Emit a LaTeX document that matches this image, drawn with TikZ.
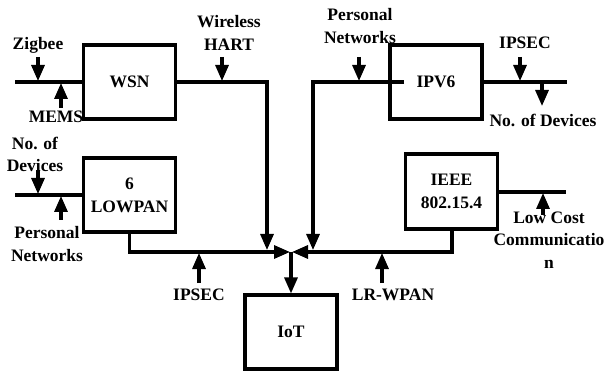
\documentclass[tikz,border=0pt]{standalone}
\usepackage{fontspec}
\setmainfont{Liberation Serif}
\usetikzlibrary{arrows.meta}
\begin{document}
\begin{tikzpicture}[x=1pt,y=-1pt,
  line width=3.1pt,
  blk/.style={draw, line width=3.1pt, minimum width=92pt, minimum height=74pt,
              inner sep=0pt, align=center, font=\bfseries\fontsize{17.5}{23}\selectfont},
  lbl/.style={inner sep=0pt, align=center, font=\bfseries\fontsize{17.5}{22.5}\selectfont},
  tip/.style={-{Triangle[length=16pt,width=13pt]}}]
\useasboundingbox (0,0) rectangle (605,374);

% blocks
\node[blk] (wsn)    at (129.5,82)  {WSN};
\node[blk] (ipv6)   at (436,82)    {IPV6};
\node[blk] (lowpan) at (129.5,195) {6\\LOWPAN};
\node[blk, minimum height=75pt] (ieee) at (451.5,191.5) {IEEE\\802.15.4};
\node[blk] (iot)    at (291,332)   {IoT};

% free ends and bends
\coordinate (wsnin)  at (15,82);
\coordinate (wsnbend) at (267,82);
\coordinate (wsnend) at (267,250);
\coordinate (ipv6in) at (404,82);
\coordinate (ipv6bend) at (313,82);
\coordinate (ipv6end) at (313,250);
\coordinate (ipv6out) at (567,82);
\coordinate (lowin)  at (15,195);
\coordinate (lowbend) at (129.5,252);
\coordinate (lowend) at (290,252);
\coordinate (ieeebend) at (452,252);
\coordinate (ieeeend) at (292,252);
\coordinate (ieeeout) at (566,192);
\coordinate (join) at (291,252);

% labels
\node[lbl] (zig)   at (38,45)    {Zigbee};
\node[lbl] (mems)  at (56,117)   {MEMS};
\node[lbl] (whart) at (229,33)   {Wireless\\HART};
\node[lbl] (pnt)   at (360,26)   {Personal\\Networks};
\node[lbl] (ipsa)  at (525,43)   {IPSEC};
\node[lbl] (noda)  at (543,120)  {No. of Devices};
\node[lbl] (nodb)  at (35,154.5) {No. of\\Devices};
\node[lbl] (pnb)   at (47,244)   {Personal\\Networks};
\node[lbl] (lcc)   at (549,240)  {Low Cost\\Communicatio\\n};
\node[lbl] (ipsb)  at (199,295)  {IPSEC};
\node[lbl] (lrw)   at (393,295)  {LR-WPAN};

% main connectors
\draw (wsnin) -- (wsn.west);
\draw[tip] (wsn.east) -- (wsnbend) -- (wsnend);
\draw[tip] (ipv6in) -- (ipv6bend) -- (ipv6end);
\draw (ipv6.east) -- (ipv6out);
\draw (lowin) -- (lowin -| lowpan.west);
\draw[tip] (lowpan.south) -- (lowbend) -- (lowend);
\draw[tip] (ieee.south -| ieeebend) -- (ieeebend) -- (ieeeend);
\draw (ieee.east |- ieeeout) -- (ieeeout);
\draw[tip] (join) -- (iot.north);

% short input arrows
\coordinate (a1s) at (38,57);   \coordinate (a1e) at (38,81);
\coordinate (a2s) at (61,108);  \coordinate (a2e) at (61,83);
\coordinate (a3s) at (222,57);  \coordinate (a3e) at (222,81);
\coordinate (a4s) at (359,57);  \coordinate (a4e) at (359,81);
\coordinate (a5s) at (520,57);  \coordinate (a5e) at (520,81);
\coordinate (a6s) at (542,83);  \coordinate (a6e) at (542,106);
\coordinate (a7s) at (38,170);  \coordinate (a7e) at (38,194);
\coordinate (a8s) at (61,220);  \coordinate (a8e) at (61,196);
\coordinate (a9s) at (543,215); \coordinate (a9e) at (543,193);
\coordinate (a10s) at (199,283); \coordinate (a10e) at (199,253);
\coordinate (a11s) at (382,283); \coordinate (a11e) at (382,253);
\foreach \i in {1,...,11} \draw[tip] (a\i s) -- (a\i e);
\end{tikzpicture}
\end{document}
